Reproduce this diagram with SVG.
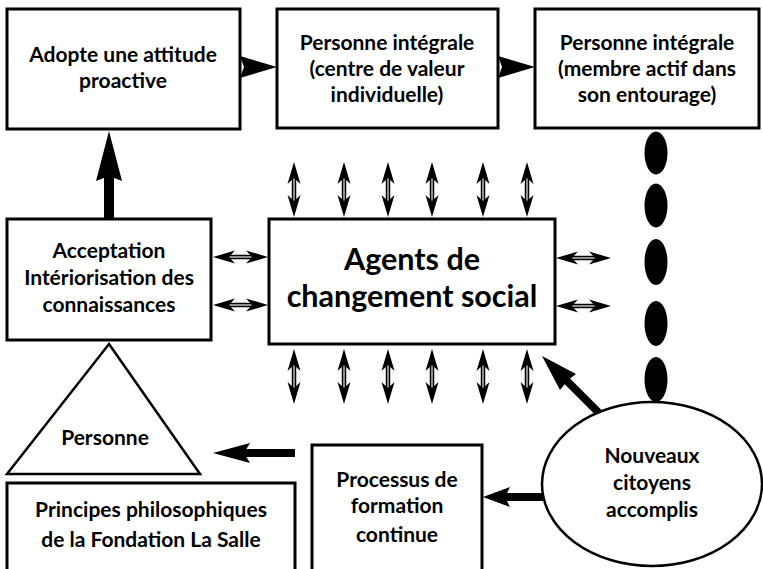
<svg xmlns="http://www.w3.org/2000/svg" width="763" height="569" viewBox="0 0 763 569">
<style>
.box{fill:#fff;stroke:#000;stroke-width:3}
.shape{fill:#fff;stroke:#000;stroke-width:2.5}
text{font-family:Lato,"Open Sans","Liberation Sans",sans-serif;font-weight:bold;fill:#000;text-anchor:middle;font-size:21px}
.big{font-size:30.5px}
.shaft{stroke:#000;stroke-width:4.5;fill:none}
.inner{stroke:#fff;stroke-width:1.1;fill:none}
.head{fill:#000;stroke:none}
</style>
<defs>
<g id="dh">
<line class="shaft" x1="12" y1="0" x2="43" y2="0"/>
<line class="inner" x1="15" y1="0" x2="40" y2="0"/>
<path class="head" d="M0,0 L22,-6.5 L16,0 L22,6.5 Z M55,0 L33,-6.5 L39,0 L33,6.5 Z"/>
</g>
</defs>
<g id="connectors">
<path class="head" d="M240,56 L277,67 L240,78 L244,67 Z"/>
<path class="head" d="M498,56 L535,67 L498,78 L502,67 Z"/>
<rect class="head" x="104" y="172" width="10" height="47"/>
<path class="head" d="M109,131 L122,181 L109,176 L96,181 Z"/>
<use href="#dh" transform="translate(213,257)"/>
<use href="#dh" transform="translate(213,305)"/>
<use href="#dh" transform="translate(556,258)"/>
<use href="#dh" transform="translate(556,306)"/>
<use href="#dh" transform="translate(294,162) rotate(90)"/>
<use href="#dh" transform="translate(344,162) rotate(90)"/>
<use href="#dh" transform="translate(388,162) rotate(90)"/>
<use href="#dh" transform="translate(432,162) rotate(90)"/>
<use href="#dh" transform="translate(483,162) rotate(90)"/>
<use href="#dh" transform="translate(527,162) rotate(90)"/>
<use href="#dh" transform="translate(294,349) rotate(90)"/>
<use href="#dh" transform="translate(344,349) rotate(90)"/>
<use href="#dh" transform="translate(388,349) rotate(90)"/>
<use href="#dh" transform="translate(432,349) rotate(90)"/>
<use href="#dh" transform="translate(483,349) rotate(90)"/>
<use href="#dh" transform="translate(527,349) rotate(90)"/>
<ellipse class="head" cx="656" cy="153" rx="11.5" ry="21.5"/>
<ellipse class="head" cx="656" cy="205.5" rx="11.5" ry="22"/>
<ellipse class="head" cx="656" cy="262" rx="11.5" ry="23"/>
<ellipse class="head" cx="656" cy="323.5" rx="11.5" ry="22.5"/>
<ellipse class="head" cx="656" cy="379.5" rx="11.5" ry="22.5"/>
<line x1="599" y1="413" x2="563" y2="377" stroke="#000" stroke-width="8"/>
<path class="head" d="M542,356 L576,374 L568,380 L560,390 Z"/>
<line x1="543" y1="497" x2="500" y2="497" stroke="#000" stroke-width="8"/>
<path class="head" d="M483,497 L510,487 L505,497 L510,507 Z"/>
<line x1="295" y1="453" x2="240" y2="453" stroke="#000" stroke-width="8"/>
<path class="head" d="M213,453 L250,443 L244,453 L250,463 Z"/>
</g>
<g id="n1"><rect class="box" x="7" y="9" width="233" height="120"/>
<text x="123" y="62">Adopte une attitude</text><text x="123" y="88">proactive</text></g>
<g id="n2"><rect class="box" x="277" y="9" width="221" height="119"/>
<text x="387" y="50">Personne intégrale</text><text x="387" y="76">(centre de valeur</text><text x="387" y="102">individuelle)</text></g>
<g id="n3"><rect class="box" x="535" y="9" width="224" height="119"/>
<text x="647" y="50">Personne intégrale</text><text x="647" y="76">(membre actif dans</text><text x="647" y="102">son entourage)</text></g>
<g id="n4"><rect class="box" x="7" y="219" width="204" height="121"/>
<text x="109" y="258">Acceptation</text><text x="109" y="285">Intériorisation des</text><text x="109" y="312">connaissances</text></g>
<g id="n5"><rect class="box" x="269" y="219" width="286" height="125"/>
<text class="big" x="412" y="270">Agents de</text><text class="big" x="412" y="307">changement social</text></g>
<g id="n6"><path class="shape" d="M109,344 L200,474 L7,474 Z"/>
<text x="105" y="445">Personne</text></g>
<g id="n7"><rect class="box" x="7" y="483" width="288" height="100"/>
<text x="151" y="517">Principes philosophiques</text><text x="151" y="547">de la Fondation La Salle</text></g>
<g id="n8"><rect class="box" x="312" y="445" width="170" height="140"/>
<text x="397" y="487">Processus de</text><text x="397" y="513">formation</text><text x="397" y="542">continue</text></g>
<g id="n9"><ellipse class="shape" cx="652" cy="484" rx="110" ry="82"/>
<text x="652" y="463">Nouveaux</text><text x="652" y="490">citoyens</text><text x="652" y="517">accomplis</text></g>
</svg>
